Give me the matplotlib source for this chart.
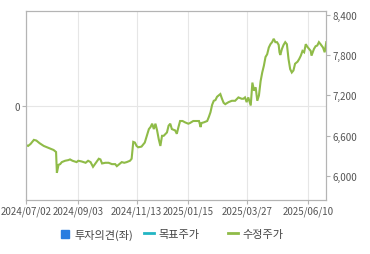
import pandas as pd
import matplotlib
matplotlib.use('Agg')
import matplotlib.pyplot as plt
import matplotlib.dates as mdates
from matplotlib.lines import Line2D

plt.rcParams['font.family'] = ['Noto Sans CJK KR', 'DejaVu Sans']

# adjusted close (수정주가)
dates = [
    '2024-07-02', '2024-07-04', '2024-07-07', '2024-07-11', '2024-07-14', '2024-07-18',
    '2024-07-23', '2024-07-27', '2024-07-31', '2024-08-04', '2024-08-07', '2024-08-08',
    '2024-08-10', '2024-08-12', '2024-08-14', '2024-08-18', '2024-08-22', '2024-08-24',
    '2024-08-27', '2024-09-01', '2024-09-03', '2024-09-07', '2024-09-12', '2024-09-15',
    '2024-09-18', '2024-09-21', '2024-09-25', '2024-09-28', '2024-09-30', '2024-10-02',
    '2024-10-06', '2024-10-10', '2024-10-14', '2024-10-18', '2024-10-20', '2024-10-23',
    '2024-10-26', '2024-10-29', '2024-11-01', '2024-11-05', '2024-11-07', '2024-11-09',
    '2024-11-11', '2024-11-13', '2024-11-15', '2024-11-19', '2024-11-23', '2024-11-28',
    '2024-11-30', '2024-12-02', '2024-12-04', '2024-12-06', '2024-12-08', '2024-12-10',
    '2024-12-12', '2024-12-14', '2024-12-16', '2024-12-20', '2024-12-22', '2024-12-24',
    '2024-12-26', '2024-12-30', '2025-01-01', '2025-01-03', '2025-01-05', '2025-01-08',
    '2025-01-11', '2025-01-15', '2025-01-17', '2025-01-21', '2025-01-25', '2025-01-28',
    '2025-01-30', '2025-01-31', '2025-02-03', '2025-02-07', '2025-02-09', '2025-02-11',
    '2025-02-13', '2025-02-15', '2025-02-17', '2025-02-19', '2025-02-21', '2025-02-23',
    '2025-02-25', '2025-02-27', '2025-03-01', '2025-03-05', '2025-03-09', '2025-03-13',
    '2025-03-17', '2025-03-19', '2025-03-21', '2025-03-23', '2025-03-25', '2025-03-27',
    '2025-03-29', '2025-04-01', '2025-04-03', '2025-04-05', '2025-04-07', '2025-04-09',
    '2025-04-11', '2025-04-13', '2025-04-15', '2025-04-17', '2025-04-19', '2025-04-21',
    '2025-04-23', '2025-04-25', '2025-04-27', '2025-04-29', '2025-05-01', '2025-05-03',
    '2025-05-05', '2025-05-06', '2025-05-07', '2025-05-09', '2025-05-11', '2025-05-13',
    '2025-05-15', '2025-05-17', '2025-05-19', '2025-05-21', '2025-05-23', '2025-05-25',
    '2025-05-28', '2025-05-30', '2025-06-01', '2025-06-03', '2025-06-05', '2025-06-07',
    '2025-06-09', '2025-06-11', '2025-06-13', '2025-06-14', '2025-06-17', '2025-06-19',
    '2025-06-21', '2025-06-23', '2025-06-25', '2025-06-28', '2025-06-30', '2025-07-02',
]
prices = [
    6460, 6450, 6480, 6540, 6530, 6490,
    6450, 6430, 6410, 6390, 6360, 6050,
    6170, 6180, 6210, 6230, 6240, 6250,
    6230, 6210, 6230, 6220, 6200, 6230,
    6210, 6140, 6210, 6260, 6250, 6190,
    6200, 6200, 6180, 6180, 6150, 6180,
    6210, 6200, 6210, 6230, 6260, 6510,
    6500, 6450, 6430, 6440, 6500, 6700,
    6730, 6780, 6700, 6780, 6680, 6550,
    6450, 6600, 6600, 6650, 6750, 6780,
    6700, 6680, 6630, 6730, 6820, 6820,
    6800, 6780, 6790, 6820, 6820, 6820,
    6730, 6790, 6800, 6820, 6880, 6950,
    7060, 7120, 7130, 7180, 7200, 7220,
    7150, 7090, 7070, 7100, 7120, 7120,
    7170, 7160, 7150, 7150, 7170, 7100,
    7170, 7050, 7390, 7270, 7320, 7120,
    7200, 7410, 7540, 7640, 7770, 7810,
    7910, 7960, 7990, 8040, 7990, 7990,
    7950, 7840, 7800, 7890, 7950, 7990,
    7960, 7740, 7590, 7540, 7570, 7670,
    7700, 7740, 7790, 7860, 7840, 7960,
    7920, 7890, 7860, 7790, 7890, 7930,
    7940, 7990, 7960, 7910, 7840, 7990,
]
tick_dates = ['2024-07-02', '2024-09-03', '2024-11-13', '2025-01-15', '2025-03-27', '2025-06-10']
price_ticks = [6000, 6600, 7200, 7800, 8400]
legend_labels = ['투자의견(좌)', '목표주가', '수정주가']

x = pd.to_datetime(dates)
xt = pd.to_datetime(tick_dates)

fig = plt.figure(figsize=(3.7, 2.55), dpi=100)
ax = fig.add_axes([0.0716, 0.2129, 0.8103, 0.7381])
ax2 = ax.twinx()

edge = '#b4b4b4'
grid = '#e6e6e6'
tcol = '#555555'

ax2.plot(x, prices, color='#8fbb48', lw=1.5, solid_joinstyle='miter')
ax2.set_ylim(5652, 8445)
ax2.set_yticks(price_ticks)
ax2.set_yticklabels([f'{v:,}' for v in price_ticks])

ax.set_ylim(-1, 1)
ax.set_yticks([0])
ax.set_yticklabels(['0'])
ax.set_xlim(x[0], x[-1])
ax.set_xticks(xt)
ax.xaxis.set_major_formatter(mdates.DateFormatter('%Y/%m/%d'))
ax.grid(True, color=grid, lw=0.8)
ax.set_axisbelow(True)

for a in (ax, ax2):
    for s in a.spines.values():
        s.set_color(edge)
        s.set_linewidth(0.8)
    a.tick_params(colors=edge, labelcolor=tcol, labelsize=7, length=3, width=0.8, pad=1.5)

# legend: three fixed-width slots under the plot
handles = [
    Line2D([], [], ls='none', marker='s', markersize=6, color='#2a7de0'),
    Line2D([], [], color='#22b5c3', lw=2),
    Line2D([], [], color='#8fbb48', lw=2),
]
slots = [0.163, 0.39, 0.615]
for h, lab, sx in zip(handles, legend_labels, slots):
    fig.legend([h], [lab], loc='center left', bbox_to_anchor=(sx, 0.077), frameon=False,
               fontsize=8, handlelength=0.9, handletextpad=0.4, borderpad=0,
               borderaxespad=0, labelcolor='#444444')

fig.savefig('out.png', dpi=100, facecolor='white')
